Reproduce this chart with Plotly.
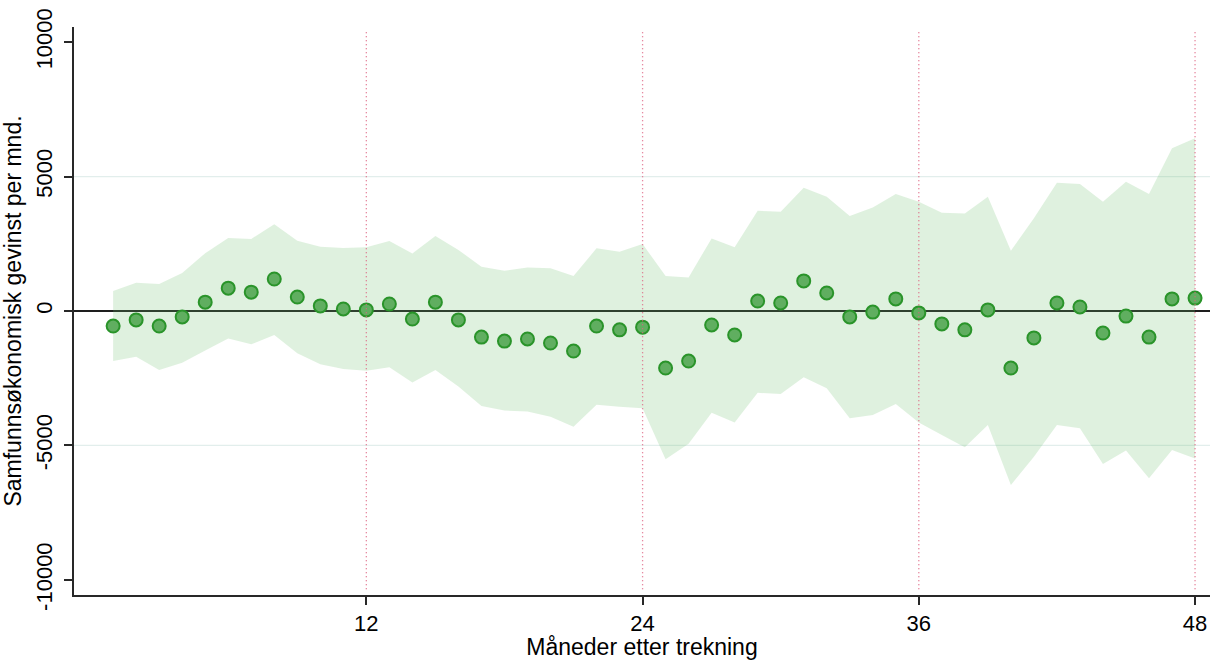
import plotly.graph_objects as go

months = list(range(1, 49))
estimate = [-560, -330, -560, -220, 330, 850, 700, 1190, 520, 190, 75, 40,
            260, -300, 330, -330, -970, -1120, -1040, -1190, -1490, -560, -700, -600,
            -2120, -1860, -520, -890, 370, 300, 1120, 670, -220, -40, 450, -70,
            -480, -700, 40, -2120, -1000, 300, 150, -820, -190, -970, 450, 480]
upper = [740, 1050, 1000, 1410, 2150, 2710, 2680, 3230, 2610, 2390, 2340, 2370,
         2600, 2140, 2790, 2270, 1650, 1500, 1620, 1590, 1300, 2330, 2200, 2490,
         1300, 1250, 2700, 2370, 3730, 3690, 4580, 4250, 3530, 3850, 4350, 4060,
         3650, 3630, 4250, 2240, 3450, 4770, 4720, 4060, 4810, 4350, 6050, 6420]
lower = [-1860, -1700, -2190, -1920, -1470, -1020, -1240, -890, -1570, -1980, -2160, -2220,
         -2090, -2660, -2190, -2810, -3530, -3700, -3740, -3930, -4300, -3490, -3560, -3620,
         -5510, -4940, -3780, -4150, -3040, -3090, -2460, -2870, -3990, -3870, -3460, -4150,
         -4610, -5070, -4240, -6470, -5420, -4240, -4360, -5690, -5190, -6220, -5170, -5480]

x_ticks = [12, 24, 36, 48]
y_ticks = [-10000, -5000, 0, 5000, 10000]
y_ticklabels = ["-10000", "-5000", "0", "5000", "10000"]
grid_vals = [-5000, 5000]
x_title = "Måneder etter trekning"
y_title = "Samfunnsøkonomisk gevinst per mnd."

FONT = "Liberation Sans, Arial, sans-serif"

fig = go.Figure()
fig.add_trace(go.Scatter(x=months, y=upper, mode="lines", line=dict(width=0),
                         hoverinfo="skip", showlegend=False))
fig.add_trace(go.Scatter(x=months, y=lower, mode="lines", line=dict(width=0),
                         fill="tonexty", fillcolor="rgba(110,190,110,0.22)",
                         hoverinfo="skip", showlegend=False))
fig.add_trace(go.Scatter(x=months, y=estimate, mode="markers",
                         marker=dict(size=13, color="rgb(96,174,96)",
                                     line=dict(color="rgb(42,148,42)", width=2)),
                         showlegend=False))

shapes = []
for g in grid_vals:
    shapes.append(dict(type="line", xref="paper", x0=0, x1=1, yref="y", y0=g, y1=g,
                       line=dict(color="rgb(226,238,236)", width=1.2), layer="below"))
for xv in x_ticks:
    shapes.append(dict(type="line", xref="x", x0=xv, x1=xv, yref="paper", y0=0.01, y1=0.995,
                       line=dict(color="rgb(222,100,130)", width=1.3, dash="1px,3px"), layer="above"))
fig.update_layout(shapes=shapes)

fig.update_layout(
    width=1216, height=660,
    margin=dict(l=74, r=6, t=27, b=65),
    paper_bgcolor="white", plot_bgcolor="white",
    font=dict(family=FONT, size=22, color="black"),
    xaxis=dict(range=[-0.7, 48.65], tickvals=x_ticks, showgrid=False, zeroline=False,
               showline=True, linecolor="rgb(40,40,40)", linewidth=1.5, automargin=False,
               ticks="outside", ticklen=8, tickcolor="rgb(40,40,40)", tickwidth=1.5,
               tickfont=dict(size=22), title=dict(text=x_title, font=dict(size=23), standoff=0)),
    yaxis=dict(range=[-10560, 10560], tickvals=y_ticks, ticktext=y_ticklabels, tickangle=-90,
               showgrid=False, automargin=False, ticklabelstandoff=3,
               zeroline=True, zerolinecolor="rgb(30,30,30)", zerolinewidth=1.5,
               showline=True, linecolor="rgb(40,40,40)", linewidth=1.5,
               ticks="outside", ticklen=8, tickcolor="rgb(40,40,40)", tickwidth=1.5,
               tickfont=dict(size=22), title=dict(text=y_title, font=dict(size=23), standoff=6)),
)

fig.write_html("out.html", config={"displayModeBar": False},
               post_script="document.body.style.margin='0';document.body.style.padding='0';")
